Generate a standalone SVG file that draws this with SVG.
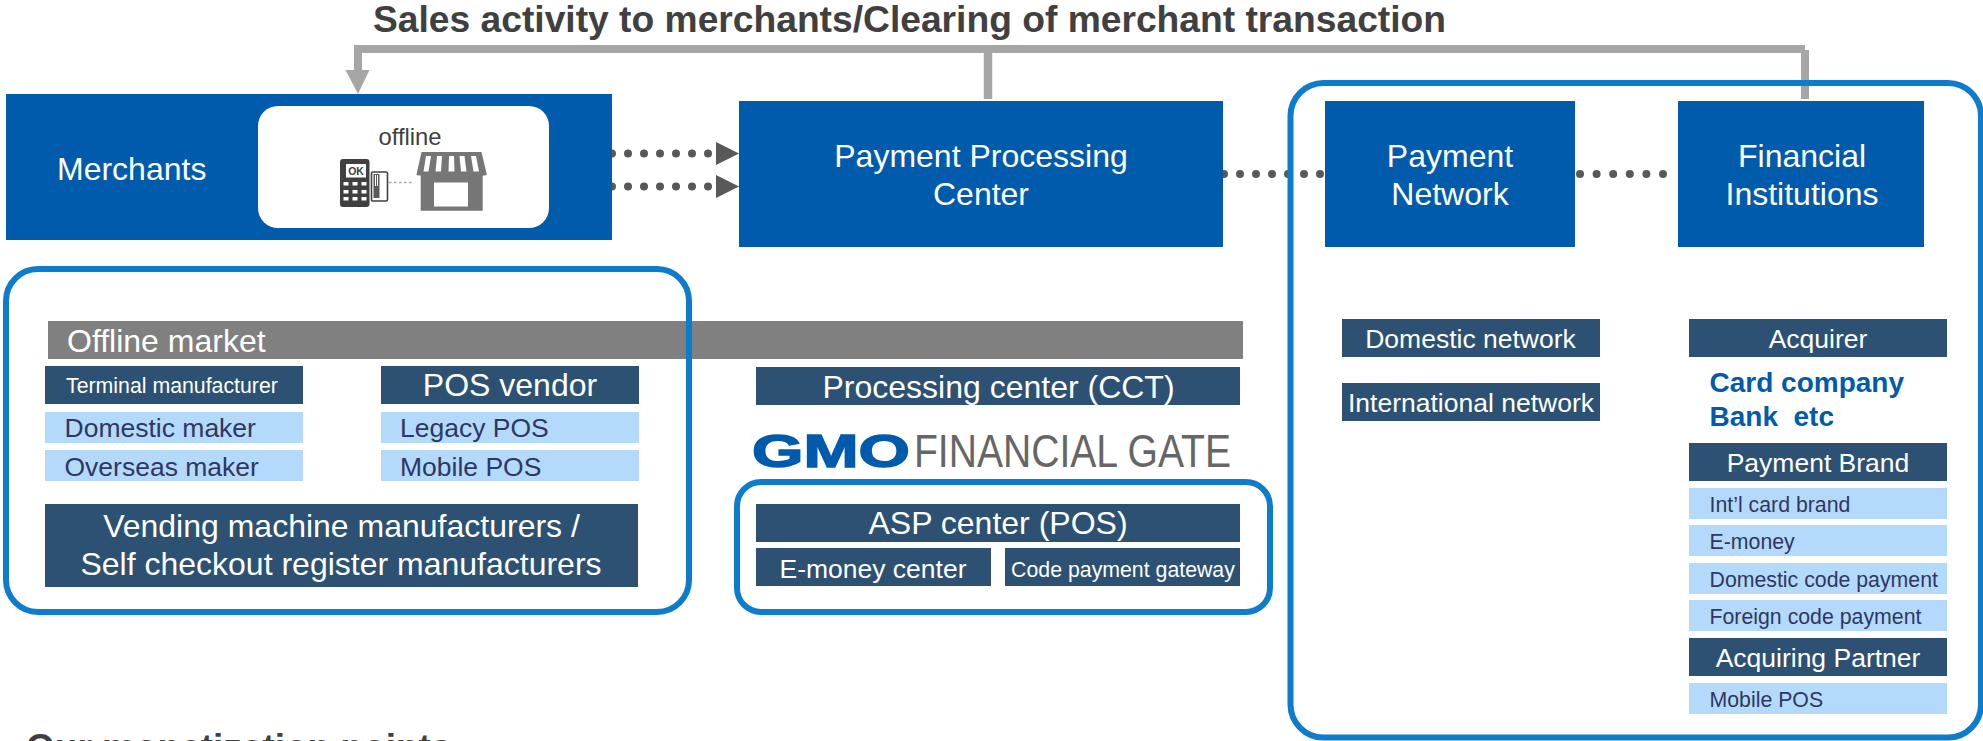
<svg xmlns="http://www.w3.org/2000/svg" width="1983" height="741" viewBox="0 0 1983 741">
<style>
text{font-family:"Liberation Sans",Arial,sans-serif}
.b{fill:#005bac}.d{fill:#2c5172}.l{fill:#b4dafb}
.f{fill:none;stroke:#0e7ccd;stroke-width:6}
.w{fill:#fff}.m{text-anchor:middle}
.t{fill:#2f3763}
.s32{font-size:32px}.s26{font-size:26.5px}.s21{font-size:21.3px}
.dots{fill:none;stroke:#595959;stroke-width:8;stroke-linecap:round;stroke-dasharray:0 16}
.gr{fill:none;stroke:#a6a6a6}
</style>
<text x="373" y="32" font-size="37" font-weight="700" fill="#404040" textLength="1073" lengthAdjust="spacingAndGlyphs">Sales activity to merchants/Clearing of merchant transaction</text>
<text x="26" y="760" font-size="37" font-weight="700" fill="#404040">Our monetization points</text>
<g id="band"><rect x="48" y="321" width="1195" height="38" fill="#808080"/><text x="67" y="352" class="w s32">Offline market</text></g>
<g id="connectors">
<path class="gr" stroke-width="8" d="M358 49H1805"/>
<path class="gr" stroke-width="8" d="M358 45V72"/>
<path d="M345.500 70H369.500L358 94Z" fill="#a6a6a6"/>
<path class="gr" stroke-width="8.500" d="M988 49V99"/>
<path class="gr" stroke-width="8" d="M1805 50V99"/>
<path class="dots" d="M612 153.500H714"/>
<path d="M716 142L739 153.500L716 165Z" fill="#595959"/>
<path class="dots" d="M612 186.500H714"/>
<path d="M716 175L739 186.500L716 198Z" fill="#595959"/>
<path class="dots" d="M1224 174H1322"/>
<path class="dots" d="M1580 174H1666" style="stroke-dasharray:0 16.600"/>
</g>
<g id="frames">
<rect id="frame-offline" class="f" x="6" y="269" width="683" height="343" rx="32"/>
<rect id="frame-asp" class="f" x="737" y="482" width="533" height="130" rx="24"/>
<rect id="frame-network" class="f" x="1290.500" y="83" width="690.500" height="654.500" rx="33"/>
</g>
<g id="merchants">
<rect class="b" x="6" y="94" width="606" height="146"/>
<text x="57" y="180" class="w s32">Merchants</text>
<rect x="258" y="106" width="291" height="122" rx="20" fill="#fff"/>
<text x="378.500" y="145" font-size="23.800" fill="#404040">offline</text>
<g id="terminal-icon">
<rect x="340" y="159" width="29.500" height="48" rx="3" fill="#404040"/>
<rect x="346" y="164" width="20" height="13.500" fill="#fff"/>
<text x="356" y="175" font-size="10.500" font-weight="700" fill="#404040" class="m">OK</text>
<path fill="#fff" d="M343.500 182h5v3.500h-5zM352.500 182h5v3.500h-5zM361.500 182h5v3.500h-5zM343.500 190h5v3.500h-5zM352.500 190h5v3.500h-5zM361.500 190h5v3.500h-5zM343.500 197h5v3.500h-5zM352.500 197h5v3.500h-5zM361.500 197h5v3.500h-5z"/>
<rect x="371.500" y="172" width="16" height="29" rx="1.500" fill="#fff" stroke="#404040" stroke-width="1.600"/>
<path d="M373.500 174h6v24h-6z" fill="#595959"/>
<path d="M375.500 175v11M377.500 175v11" stroke="#fff" stroke-width="1"/>
<path d="M389 182.500H413" stroke="#a6a6a6" stroke-width="1.500" stroke-dasharray="2.500 2.500" fill="none"/>
</g>
<g id="shop-icon">
<path d="M421.500 152H481.500L486.800 174.500Q486.800 175.500 482.700 175.500V210.700H420.700V175.500Q416.500 175.500 416.500 174.500Z" fill="#767676"/>
<rect x="434" y="182.500" width="34" height="24" fill="#fff"/>
<path fill="#fff" d="M426 156h5l-2.500 15.500h-5zM437 156h5l-1 15.500h-5.500zM449 156h5l.5 15.500h-6zM459.500 156h5l2 15.500h-5.500zM471 156h5l3 15.500h-5.500z"/>
</g>
</g>
<g id="processing-center"><rect class="b" x="739" y="101" width="484" height="146"/><text x="981" y="167" class="w m s32">Payment Processing</text><text x="981" y="205" class="w m s32">Center</text></g>
<g id="payment-network"><rect class="b" x="1325" y="101" width="250" height="146"/><text x="1450" y="167" class="w m s32">Payment</text><text x="1450" y="205" class="w m s32">Network</text></g>
<g id="financial-institutions"><rect class="b" x="1678" y="101" width="246" height="146"/><text x="1802" y="167" class="w m s32">Financial</text><text x="1802" y="205" class="w m s32">Institutions</text></g>
<g id="terminal-manufacturer"><rect class="d" x="45" y="366" width="258" height="38"/><text x="66" y="393" class="w s21">Terminal manufacturer</text></g>
<g id="pos-vendor"><rect class="d" x="381" y="366" width="258" height="38"/><text x="510" y="396" class="w m s32">POS vendor</text></g>
<g id="domestic-maker"><rect class="l" x="45" y="412" width="258" height="31"/><text x="64.500" y="437" class="t s26">Domestic maker</text></g>
<g id="overseas-maker"><rect class="l" x="45" y="450" width="258" height="31"/><text x="64.500" y="476" class="t s26">Overseas maker</text></g>
<g id="legacy-pos"><rect class="l" x="381" y="412" width="258" height="31"/><text x="400" y="437" class="t s26">Legacy POS</text></g>
<g id="mobile-pos-left"><rect class="l" x="381" y="450" width="258" height="31"/><text x="400" y="476" class="t s26">Mobile POS</text></g>
<g id="vending"><rect class="d" x="45" y="504" width="593" height="83"/><text x="341.500" y="537" class="w m s32">Vending machine manufacturers /</text><text x="341" y="575" class="w m s32">Self checkout register manufacturers</text></g>
<g id="processing-cct"><rect class="d" x="756" y="367" width="484" height="38"/><text x="998.500" y="398" class="w m s32">Processing center (CCT)</text></g>
<g id="logo">
<text x="752" y="467" font-size="46" font-weight="700" fill="#005bac" stroke="#005bac" stroke-width="1.500" textLength="158" lengthAdjust="spacingAndGlyphs">GMO</text>
<text x="914" y="466.500" font-size="46" fill="#666" textLength="317" lengthAdjust="spacingAndGlyphs">FINANCIAL GATE</text>
</g>
<g id="asp-center"><rect class="d" x="756" y="504" width="484" height="38"/><text x="998" y="534" class="w m s32">ASP center (POS)</text></g>
<g id="emoney-center"><rect class="d" x="756" y="548" width="235" height="38"/><text x="873" y="578" class="w m s26">E-money center</text></g>
<g id="code-gateway"><rect class="d" x="1005" y="548" width="235" height="38"/><text x="1123" y="577" class="w m s21">Code payment gateway</text></g>
<g id="domestic-network"><rect class="d" x="1342" y="319" width="258" height="38"/><text x="1470.500" y="348" class="w m s26">Domestic network</text></g>
<g id="international-network"><rect class="d" x="1342" y="383" width="258" height="38"/><text x="1471" y="412" class="w m s26">International network</text></g>
<g id="acquirer"><rect class="d" x="1689" y="319" width="258" height="38"/><text x="1818" y="348" class="w m s26">Acquirer</text></g>
<g id="acquirer-types" font-size="28" font-weight="700" fill="#005bac"><text x="1709.500" y="392">Card company</text><text x="1709.500" y="426" xml:space="preserve">Bank  etc</text></g>
<g id="payment-brand"><rect class="d" x="1689" y="443" width="258" height="38"/><text x="1818" y="472" class="w m s26">Payment Brand</text></g>
<g id="intl-card-brand"><rect class="l" x="1689" y="488" width="258" height="31"/><text x="1709.500" y="512" class="t s21">Int’l card brand</text></g>
<g id="e-money"><rect class="l" x="1689" y="525" width="258" height="31"/><text x="1709.500" y="549" class="t s21">E-money</text></g>
<g id="domestic-code"><rect class="l" x="1689" y="563" width="258" height="31"/><text x="1709.500" y="587" class="t s21">Domestic code payment</text></g>
<g id="foreign-code"><rect class="l" x="1689" y="600" width="258" height="31"/><text x="1709.500" y="624" class="t s21">Foreign code payment</text></g>
<g id="acquiring-partner"><rect class="d" x="1689" y="638" width="258" height="38"/><text x="1818" y="667" class="w m s26">Acquiring Partner</text></g>
<g id="mobile-pos-right"><rect class="l" x="1689" y="683" width="258" height="31"/><text x="1709.500" y="707" class="t s21">Mobile POS</text></g>
</svg>
